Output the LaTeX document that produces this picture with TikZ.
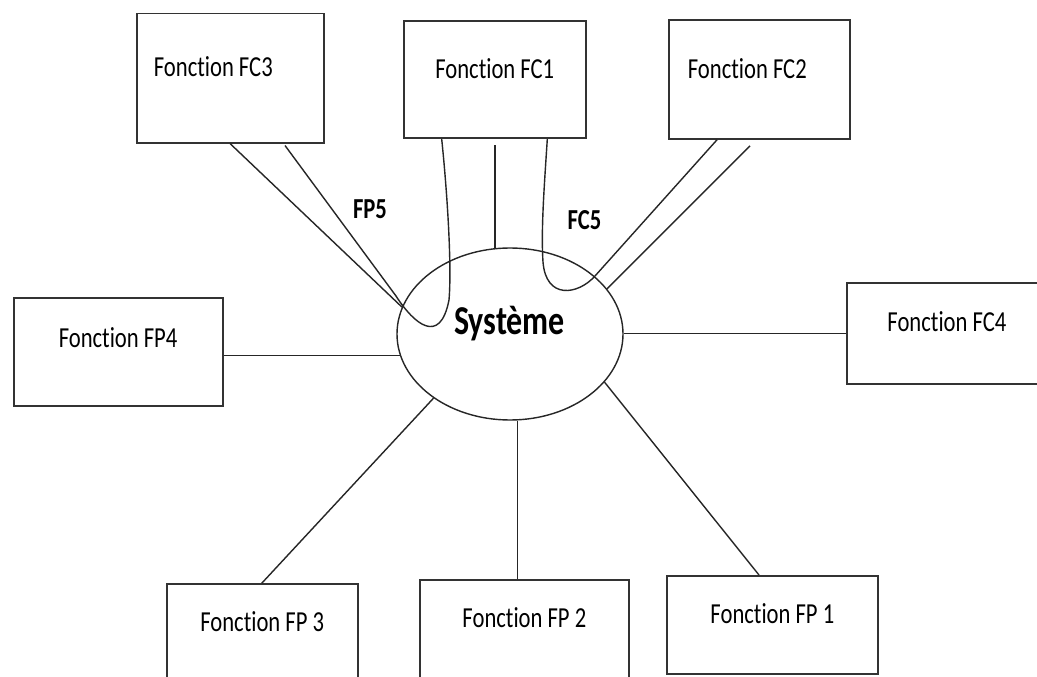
\documentclass[tikz,border=0pt]{standalone}
\usepackage{fontspec}
\setmainfont[FakeStretch=0.78, Ligatures=NoCommon]{Carlito}
\usetikzlibrary{shapes.geometric}

\begin{document}
\begin{tikzpicture}[x=1pt,y=-1pt,
  fbox/.style={draw=black!80, line width=1.8pt, rectangle, anchor=north west,
    inner ysep=0pt, inner xsep=0pt, font=\fontsize{29}{34}\selectfont},
  link/.style={draw=black!85, line width=1.4pt},
  tag/.style={anchor=base, inner sep=0pt, font=\fontsize{29}{34}\selectfont\bfseries}]

\useasboundingbox (0,0) rectangle (1037,677);
\fill[white] (0,0) rectangle (1037,677);

% central system
\node[ellipse, draw=black!85, line width=1.4pt, minimum width=226pt,
      minimum height=172pt, inner sep=0pt] (sys) at (510,334) {};
\node[anchor=base, inner sep=0pt, font=\fontsize{41}{48}\selectfont\bfseries]
      (systxt) at (509.5,334) {Système};

% surrounding function boxes
\node[fbox, inner xsep=17pt, text height=63.3pt, text depth=65.7pt]
      (fc3) at (136,12.7) {\makebox[153pt][l]{Fonction FC3}};
\node[fbox, minimum width=182.3pt, text height=58pt, text depth=59.3pt]
      (fc1) at (402.7,20) {Fonction FC1};
\node[fbox, inner xsep=19pt, text height=59pt, text depth=60pt]
      (fc2) at (668,19) {\makebox[143pt][l]{Fonction FC2}};
\node[fbox, minimum width=200pt, text height=49pt, text depth=52pt]
      (fc4) at (846,282) {Fonction FC4};
\node[fbox, minimum width=209pt, text height=50.3pt, text depth=58pt]
      (fp4) at (12.7,296.7) {Fonction FP4};
\node[fbox, minimum width=190.7pt, text height=47.7pt, text depth=59pt]
      (fp3) at (166,583.3) {Fonction FP 3};
\node[fbox, minimum width=209pt, text height=47.7pt, text depth=63pt]
      (fp2) at (419,579) {Fonction FP 2};
\node[fbox, minimum width=211pt, text height=47.7pt, text depth=50.3pt]
      (fp1) at (666,575) {Fonction FP 1};

% labels of the two looping functions
\node[tag] (fp5) at (370,218) {FP5};
\node[tag] (fc5) at (584.5,229) {FC5};

% straight links to the system
\draw[link] (sys.191) -- (sys.191 -| fp4.east);
\draw[link] (fc4.west) -- (sys.east |- fc4.west);
\draw[link] (sys.275.3) -- (sys.275.3 |- fp2.north);
\draw[link] (sys.220) -- ([xshift=95.7pt]fp3.north west);
\draw[link] (sys.333.7) -- ([xshift=93pt]fp1.north west);
\draw[link] (sys.100.5) -- ([yshift=-6pt]sys.100.5 |- fc1.south);
\draw[link] ([xshift=94pt]fc3.south west) -- (sys.166.5);
\draw[link] ([xshift=82pt,yshift=-6pt]fc2.south west) -- (sys.25.8);

% FP5: from FC3 through the system to FC1
\draw[link] ([xshift=149pt,yshift=-2pt]fc3.south west) -- (396,296)
  .. controls (414,324) and (440,346) .. (449,300)
  .. controls (452,265) and (447,190) .. ([xshift=39pt]fc1.south west);

% FC5: from FC1 through the system to FC2
\draw[link] ([xshift=144.6pt]fc1.south west)
  .. controls (544,190) and (541,230) .. (543,262)
  .. controls (546,300) and (578,295) .. (595,276)
  -- ([xshift=49pt]fc2.south west);
\end{tikzpicture}
\end{document}
